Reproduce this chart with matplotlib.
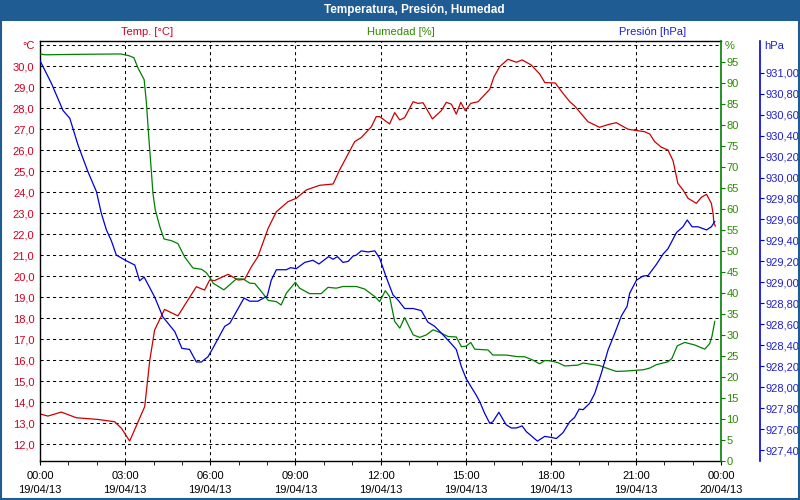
import numpy as np
import pandas as pd
import matplotlib
matplotlib.use("Agg")
import matplotlib.pyplot as plt
import matplotlib.dates as mdates
from matplotlib.patches import Rectangle
from matplotlib.ticker import FixedLocator, FuncFormatter

# === Data (hours after 19/04/13 00:00) ===
temp_h = [0.0, 0.28, 0.75, 1.28, 2.04, 2.63, 2.87, 3.16, 3.69, 3.87, 4.04, 4.39, 4.86, 5.51, 5.80,
          5.98, 6.15, 6.63, 6.98, 7.21, 7.45, 7.68, 8.04, 8.33, 8.74, 9.03, 9.39, 9.86, 10.33, 10.56,
          11.09, 11.32, 11.68, 11.85, 11.97, 12.32, 12.50, 12.68, 12.85, 13.15, 13.32, 13.50, 13.83,
          14.14, 14.32, 14.50, 14.67, 14.83, 14.99, 15.18, 15.44, 15.85, 16.0, 16.2, 16.49, 16.79,
          16.99, 17.31, 17.61, 17.79, 18.16, 18.43, 18.67, 18.84, 19.31, 19.72, 20.02, 20.31, 20.72,
          21.31, 21.49, 21.66, 21.90, 22.13, 22.31, 22.48, 22.66, 22.84, 23.13, 23.31, 23.49, 23.66,
          23.72, 23.75, 23.80]
temp = [13.43, 13.33, 13.52, 13.25, 13.17, 13.06, 12.75, 12.14, 13.78, 16.0, 17.43, 18.41, 18.10,
        19.49, 19.33, 19.81, 19.78, 20.08, 19.81, 19.84, 20.44, 20.92, 22.27, 23.06, 23.54, 23.70,
        24.10, 24.32, 24.38, 25.05, 26.40, 26.59, 27.11, 27.59, 27.59, 27.24, 27.78, 27.43, 27.54,
        28.30, 28.22, 28.25, 27.48, 27.87, 28.27, 28.18, 27.71, 28.27, 27.87, 28.22, 28.30, 28.89,
        29.49, 29.97, 30.32, 30.18, 30.29, 30.05, 29.62, 29.21, 29.19, 28.70, 28.30, 28.10, 27.35,
        27.08, 27.21, 27.30, 26.99, 26.87, 26.76, 26.40, 26.13, 26.0, 25.49, 24.41, 24.10, 23.70,
        23.46, 23.75, 23.89, 23.46, 22.99, 22.51, 22.38]

hum_h = [0.0, 0.2, 1.2, 2.84, 3.13, 3.31, 3.45, 3.67, 3.75, 3.84, 3.92, 3.98, 4.06, 4.22, 4.37,
         4.63, 4.86, 5.10, 5.39, 5.69, 5.86, 6.0, 6.10, 6.48, 6.92, 7.16, 7.39, 7.57, 7.86, 8.04,
         8.33, 8.50, 8.68, 9.0, 9.15, 9.5, 9.91, 10.15, 10.44, 10.68, 11.15, 11.44, 11.80, 11.97,
         12.17, 12.32, 12.50, 12.68, 12.85, 13.15, 13.38, 13.62, 13.85, 14.08, 14.38, 14.67, 14.85,
         15.02, 15.18, 15.32, 15.79, 15.96, 16.43, 16.84, 17.08, 17.37, 17.61, 17.79, 18.0, 18.25,
         18.49, 18.96, 19.14, 19.72, 19.96, 20.31, 20.67, 21.26, 21.49, 21.72, 22.13, 22.27, 22.46,
         22.72, 23.07, 23.43, 23.60, 23.68, 23.78]
hum = [96.8, 96.6, 96.7, 96.8, 96.4, 95.9, 93.5, 90.7, 85.2, 76.4, 69.3, 63.7, 59.8, 55.8, 52.8,
       52.4, 51.7, 48.5, 45.9, 45.6, 44.8, 43.5, 42.3, 40.7, 43.3, 43.3, 42.3, 42.2, 39.8, 38.2,
       37.9, 37.1, 39.9, 42.5, 41.1, 39.8, 39.8, 41.3, 41.1, 41.5, 41.5, 40.9, 39.1, 37.9, 40.5,
       39.1, 33.2, 31.6, 34.1, 30.0, 29.4, 30.0, 31.2, 30.6, 29.6, 29.5, 27.2, 27.3, 28.2, 26.6,
       26.4, 25.2, 25.2, 24.8, 24.8, 24.0, 23.1, 23.9, 23.8, 23.4, 22.6, 22.8, 23.3, 22.7, 22.1,
       21.3, 21.4, 21.7, 22.1, 22.9, 23.6, 24.4, 27.4, 28.2, 27.6, 26.6, 27.9, 29.6, 33.2]

pres_h = [0.0, 0.40, 0.81, 1.05, 1.34, 1.69, 1.99, 2.16, 2.34, 2.51, 2.69, 3.01, 3.34, 3.51, 3.67,
          4.04, 4.33, 4.75, 5.0, 5.27, 5.51, 5.69, 5.92, 6.09, 6.21, 6.51, 6.69, 6.92, 7.19, 7.39,
          7.68, 8.01, 8.15, 8.33, 8.68, 8.83, 9.03, 9.33, 9.62, 9.83, 10.17, 10.33, 10.48, 10.68,
          10.86, 11.03, 11.15, 11.32, 11.56, 11.80, 11.97, 12.20, 12.44, 12.62, 12.85, 13.15, 13.44,
          13.67, 13.91, 14.20, 14.44, 14.67, 14.85, 15.02, 15.38, 15.50, 15.67, 15.85, 15.96, 16.17,
          16.43, 16.61, 16.79, 16.99, 17.14, 17.53, 17.79, 18.02, 18.20, 18.43, 18.67, 18.84, 19.0,
          19.14, 19.37, 19.55, 19.78, 20.02, 20.25, 20.49, 20.69, 20.78, 21.02, 21.25, 21.43, 21.72,
          21.96, 22.13, 22.43, 22.66, 22.81, 22.98, 23.19, 23.49, 23.66, 23.78]
pres = [931.115, 930.90, 930.64, 930.565, 930.31, 930.055, 929.865, 929.66, 929.50, 929.40, 929.26,
        929.21, 929.165, 929.015, 929.05, 928.86, 928.67, 928.53, 928.37, 928.36, 928.24, 928.24,
        928.29, 928.37, 928.43, 928.58, 928.61, 928.72, 928.85, 928.82, 928.82, 928.87, 929.02,
        929.12, 929.12, 929.14, 929.13, 929.19, 929.21, 929.175, 929.245, 929.22, 929.245, 929.19,
        929.20, 929.25, 929.26, 929.30, 929.29, 929.30, 929.23, 929.05, 928.88, 928.83, 928.75,
        928.75, 928.73, 928.62, 928.58, 928.50, 928.43, 928.36, 928.195, 928.08, 927.92, 927.86,
        927.75, 927.655, 927.67, 927.76, 927.64, 927.61, 927.61, 927.63, 927.575, 927.485, 927.53,
        927.52, 927.51, 927.565, 927.67, 927.71, 927.79, 927.785, 927.845, 927.94, 928.13, 928.355,
        928.51, 928.68, 928.77, 928.895, 929.02, 929.06, 929.065, 929.17, 929.27, 929.32, 929.475,
        929.53, 929.595, 929.53, 929.53, 929.50, 929.53, 929.58]

temp_ticks = list(range(12, 32))
hum_ticks = list(range(0, 100, 5))
pres_ticks = [927.40 + 0.2 * i for i in range(19)]

# === Styling ===
BAR = "#1F5C94"
RED = "#D00020"
RED_LINE = "#CC0000"
GREEN = "#2E8B00"
GREEN_LINE = "#008000"
BLUE = "#2020D0"
BLUE_LINE = "#0000DD"

plt.rcParams["font.family"] = ["Liberation Sans", "DejaVu Sans"]
plt.rcParams["font.size"] = 8

start = pd.Timestamp("2013-04-19 00:00")
to_dt = lambda hrs: start + pd.to_timedelta(np.array(hrs), unit="h")

fig = plt.figure(figsize=(8, 5), dpi=100)
fig.patch.set_facecolor("white")

W, H = 800.0, 500.0
ax = fig.add_axes([40 / W, 1 - 461 / H, 681 / W, 420.5 / H])
ax2 = ax.twinx()
ax3 = ax.twinx()

# temperature (left)
ax.plot(to_dt(temp_h), temp, color=RED_LINE, lw=0.9)
ax.set_ylim(12 - 17 / 21, 12 + (444 - 40.5) / 21)
ax.yaxis.set_major_locator(FixedLocator(temp_ticks))
ax.yaxis.set_major_formatter(FuncFormatter(
    lambda v, p: "°C" if round(v) == 31 else f"{v:.1f}".replace(".", ",")))
ax.tick_params(axis="y", length=0, pad=4, labelcolor=RED)
ax.grid(True, axis="both", color="black", lw=0.75, linestyle=(0, (3, 3)))

# x axis
ax.set_xlim(start, start + pd.Timedelta(hours=24))
ax.xaxis.set_major_locator(mdates.HourLocator(byhour=range(0, 24, 3)))
ax.xaxis.set_minor_locator(mdates.HourLocator())
ax.xaxis.set_major_formatter(mdates.DateFormatter("%H:%M\n%d/%m/%y"))
ax.tick_params(axis="x", which="both", length=3, pad=4, direction="out")
ax.spines["right"].set_visible(False)
for s in ("top", "left", "bottom"):
    ax.spines[s].set_linewidth(1)

# humidity (inner right)
ax2.plot(to_dt(hum_h), hum, color=GREEN_LINE, lw=0.9)
ax2.set_ylim(0, 100)
ax2.yaxis.set_major_locator(FixedLocator(hum_ticks))
ax2.tick_params(axis="y", length=3, pad=1, color=GREEN_LINE, labelcolor=GREEN)
ax2.spines["right"].set_color(GREEN_LINE)
ax2.spines["right"].set_linewidth(1.2)
for s in ("top", "left", "bottom"):
    ax2.spines[s].set_visible(False)

# pressure (outer right)
ax3.plot(to_dt(pres_h), pres, color=BLUE_LINE, lw=0.9)
ax3.set_ylim(927.40 - 11 / 104.8, 927.40 + (450 - 40.5) / 104.8)
ax3.yaxis.set_major_locator(FixedLocator(pres_ticks))
ax3.yaxis.set_major_formatter(FuncFormatter(lambda v, p: f"{v:.2f}".replace(".", ",")))
ax3.tick_params(axis="y", length=3, pad=1, color=BLUE_LINE, labelcolor=BLUE)
ax3.spines["right"].set_position(("outward", 28))
ax3.spines["right"].set_color(BLUE_LINE)
ax3.spines["right"].set_linewidth(1.2)
for s in ("top", "left", "bottom"):
    ax3.spines[s].set_visible(False)

# title bar + frame
fig.patches.append(Rectangle((0, 1 - 21 / H), 1, 21 / H, transform=fig.transFigure,
                             facecolor=BAR, edgecolor="none", zorder=0))
fig.patches.append(Rectangle((0.001, 0.002), 0.998, 0.996, transform=fig.transFigure,
                             fill=False, edgecolor=BAR, lw=1.5, zorder=1))
fig.text(414 / W, 1 - 10.5 / H, "Temperatura, Presión, Humedad", color="white",
         fontweight="bold", ha="center", va="center", fontsize=8.5)

# axis captions
fig.text(147 / W, 1 - 32 / H, "Temp. [°C]", color=RED, ha="center", va="center")
fig.text(401 / W, 1 - 32 / H, "Humedad [%]", color=GREEN, ha="center", va="center")
fig.text(653 / W, 1 - 32 / H, "Presión [hPa]", color=BLUE, ha="center", va="center")
fig.text(725 / W, 1 - 46 / H, "%", color=GREEN, ha="left", va="center")
fig.text(764 / W, 1 - 46 / H, "hPa", color=BLUE, ha="left", va="center")

# two-line date labels need a bit more room between lines
fig.canvas.draw()
for lbl in ax.get_xticklabels():
    lbl.set_linespacing(1.5)

fig.savefig("out.png", dpi=100)
